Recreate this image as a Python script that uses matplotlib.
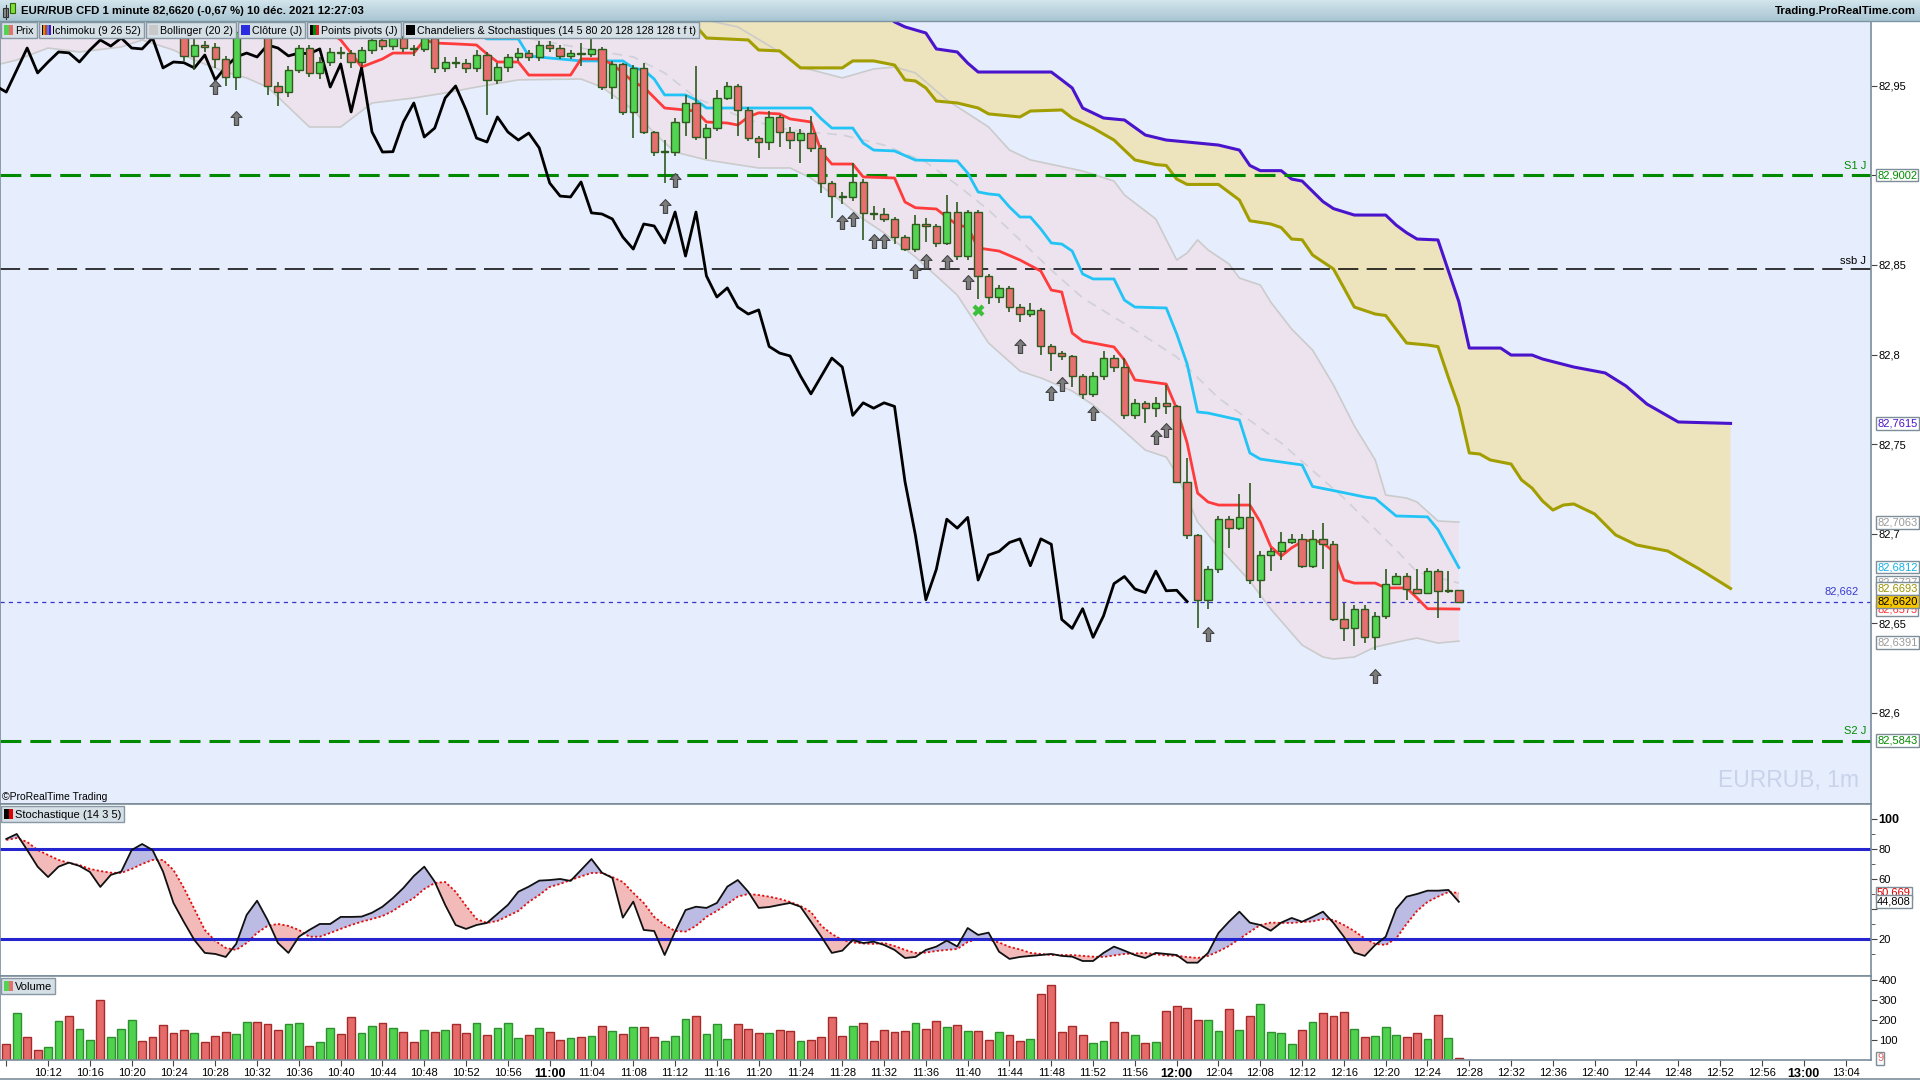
import numpy as np
import matplotlib
matplotlib.use("Agg")
import matplotlib.pyplot as plt
from matplotlib.path import Path
from matplotlib.patches import Rectangle
from matplotlib.colors import LinearSegmentedColormap

plt.rcParams['font.family'] = ['Liberation Sans', 'DejaVu Sans']
plt.rcParams['lines.scale_dashes'] = False

W, H = 1920, 1080

# minutes relative to 12:00  (10:08 -> -112 ... 12:27 -> 27)
minutes = np.arange(-112, 28)

opens = [
    82.995, 82.992, 82.998, 82.994, 82.990, 82.995, 83.002, 82.998, 83.003, 83.006,
    82.999, 83.003, 83.007, 83.012, 83.006, 83.000, 82.994, 82.988, 82.967, 82.973,
    82.972, 82.965, 82.955, 82.980, 82.984, 82.978, 82.950, 82.9466, 82.9589, 82.9712,
    82.9573, 82.9634, 82.9690, 82.9685, 82.9634, 82.9701, 82.9757, 82.9723, 82.9768, 82.9712,
    82.9707, 82.9768, 82.9601, 82.9634, 82.9630, 82.9601, 82.9673, 82.9534, 82.9606, 82.9662,
    82.9684, 82.9662, 82.9729, 82.9712, 82.9668, 82.9684, 82.9680, 82.9707, 82.9494, 82.9623,
    82.9355, 82.9601, 82.9243, 82.9131, 82.9133, 82.9299, 82.9405, 82.9215, 82.9265, 82.9433,
    82.9500, 82.9366, 82.9209, 82.9187, 82.9327, 82.9243, 82.9198, 82.9237, 82.9154, 82.8958,
    82.8885, 82.8880, 82.8964, 82.8791, 82.8785, 82.8757, 82.8656, 82.8589, 82.8729, 82.8718,
    82.8623, 82.8796, 82.8550, 82.8796, 82.8439, 82.8321, 82.8372, 82.8265, 82.8226, 82.8249,
    82.8045, 82.8008, 82.7992, 82.7880, 82.7780, 82.7880, 82.7980, 82.7930, 82.7660, 82.7730,
    82.7700, 82.7730, 82.7710, 82.7290, 82.6990, 82.6630, 82.6800, 82.7080, 82.7030, 82.7090,
    82.6740, 82.6880, 82.6900, 82.6950, 82.6970, 82.6820, 82.6970, 82.6940, 82.6520, 82.6470,
    82.6580, 82.6420, 82.6540, 82.6720, 82.6760, 82.6690, 82.6670, 82.6790, 82.6680, 82.6683]

closes = [
    82.992, 82.998, 82.994, 82.990, 82.995, 83.002, 82.998, 83.003, 83.006, 82.999,
    83.003, 83.007, 83.012, 83.006, 83.000, 82.994, 82.988, 82.967, 82.973, 82.972,
    82.965, 82.955, 82.980, 82.984, 82.978, 82.950, 82.9466, 82.9589, 82.9712, 82.9573,
    82.9634, 82.9690, 82.9685, 82.9634, 82.9701, 82.9757, 82.9723, 82.9768, 82.9712, 82.9707,
    82.9768, 82.9601, 82.9634, 82.9630, 82.9601, 82.9673, 82.9534, 82.9606, 82.9662, 82.9684,
    82.9662, 82.9729, 82.9712, 82.9668, 82.9684, 82.9680, 82.9707, 82.9494, 82.9623, 82.9355,
    82.9601, 82.9243, 82.9131, 82.9133, 82.9299, 82.9405, 82.9215, 82.9265, 82.9433, 82.9500,
    82.9366, 82.9209, 82.9187, 82.9327, 82.9243, 82.9198, 82.9237, 82.9154, 82.8958, 82.8885,
    82.8880, 82.8964, 82.8791, 82.8785, 82.8757, 82.8656, 82.8589, 82.8729, 82.8718, 82.8623,
    82.8796, 82.8550, 82.8796, 82.8439, 82.8321, 82.8372, 82.8265, 82.8226, 82.8249, 82.8045,
    82.8008, 82.7992, 82.7880, 82.7780, 82.7880, 82.7980, 82.7930, 82.7660, 82.7730, 82.7700,
    82.7730, 82.7710, 82.7290, 82.6990, 82.6630, 82.6800, 82.7080, 82.7030, 82.7090, 82.6740,
    82.6880, 82.6900, 82.6950, 82.6970, 82.6820, 82.6970, 82.6940, 82.6520, 82.6470, 82.6580,
    82.6420, 82.6540, 82.6720, 82.6760, 82.6690, 82.6670, 82.6790, 82.6680, 82.6683, 82.6620]

highs = [
    82.998, 83.001, 83.000, 82.996, 82.997, 83.004, 83.004, 83.005, 83.009, 83.008,
    83.005, 83.009, 83.014, 83.013, 83.008, 83.002, 82.996, 82.990, 82.976, 82.975,
    82.974, 82.967, 82.984, 82.990, 82.987, 82.981, 82.952, 82.961, 82.973, 82.973,
    82.966, 82.971, 82.972, 82.970, 82.972, 82.978, 82.977, 82.979, 82.978, 82.973,
    82.979, 82.978, 82.966, 82.966, 82.965, 82.970, 82.969, 82.963, 82.968, 82.971,
    82.970, 82.975, 82.975, 82.973, 82.970, 82.974, 82.976, 82.972, 82.964, 82.963,
    82.962, 82.963, 82.925, 82.920, 82.932, 82.945, 82.961, 82.929, 82.948, 82.952,
    82.951, 82.938, 82.922, 82.936, 82.934, 82.927, 82.926, 82.933, 82.917, 82.897,
    82.891, 82.907, 82.898, 82.883, 82.882, 82.877, 82.867, 82.878, 82.876, 82.873,
    82.889, 82.885, 82.881, 82.881, 82.845, 82.839, 82.838, 82.828, 82.829, 82.826,
    82.806, 82.802, 82.800, 82.789, 82.790, 82.802, 82.800, 82.798, 82.775, 82.774,
    82.776, 82.783, 82.772, 82.742, 82.700, 82.682, 82.710, 82.710, 82.722, 82.728,
    82.690, 82.692, 82.701, 82.700, 82.700, 82.702, 82.706, 82.696, 82.661, 82.660,
    82.660, 82.656, 82.680, 82.678, 82.678, 82.680, 82.681, 82.680, 82.679, 82.6685]

lows = [
    82.989, 82.990, 82.992, 82.987, 82.988, 82.993, 82.996, 82.996, 83.001, 82.997,
    82.997, 83.001, 83.005, 83.004, 82.998, 82.992, 82.986, 82.964, 82.959, 82.969,
    82.960, 82.950, 82.948, 82.976, 82.977, 82.945, 82.939, 82.944, 82.957, 82.955,
    82.954, 82.961, 82.965, 82.960, 82.961, 82.968, 82.970, 82.970, 82.969, 82.967,
    82.969, 82.957, 82.958, 82.960, 82.957, 82.958, 82.934, 82.951, 82.958, 82.964,
    82.964, 82.964, 82.969, 82.965, 82.965, 82.961, 82.966, 82.948, 82.943, 82.934,
    82.921, 82.923, 82.911, 82.896, 82.911, 82.922, 82.920, 82.909, 82.925, 82.942,
    82.922, 82.919, 82.910, 82.914, 82.916, 82.915, 82.907, 82.913, 82.890, 82.876,
    82.884, 82.886, 82.864, 82.875, 82.874, 82.862, 82.858, 82.857, 82.863, 82.860,
    82.861, 82.853, 82.853, 82.831, 82.828, 82.829, 82.824, 82.818, 82.821, 82.800,
    82.791, 82.797, 82.782, 82.775, 82.776, 82.786, 82.790, 82.764, 82.764, 82.762,
    82.765, 82.767, 82.728, 82.697, 82.647, 82.658, 82.678, 82.692, 82.702, 82.672,
    82.664, 82.679, 82.685, 82.694, 82.681, 82.681, 82.680, 82.651, 82.640, 82.637,
    82.639, 82.635, 82.652, 82.671, 82.663, 82.666, 82.666, 82.653, 82.667, 82.661]

volumes = [
    78, 233, 113, 50, 63, 195, 220, 155, 100, 300,
    113, 155, 200, 95, 113, 173, 133, 150, 133, 88,
    120, 138, 128, 188, 188, 178, 150, 178, 183, 68,
    88, 158, 128, 213, 133, 168, 183, 162, 138, 88,
    150, 138, 150, 178, 133, 183, 123, 158, 183, 108,
    123, 158, 138, 98, 108, 113, 118, 168, 143, 128,
    163, 163, 113, 93, 118, 203, 218, 128, 178, 103,
    178, 155, 133, 133, 150, 143, 93, 98, 113, 213,
    118, 168, 183, 93, 148, 138, 143, 183, 153, 193,
    163, 173, 143, 143, 98, 138, 123, 93, 103, 328,
    373, 138, 168, 123, 83, 93, 188, 138, 123, 83,
    88, 243, 268, 258, 198, 198, 143, 253, 148, 218,
    278, 138, 133, 78, 148, 188, 233, 218, 238, 153,
    113, 118, 163, 123, 113, 133, 103, 223, 108, 9]

stoch_k = [
    86.7, 90.0, 79.3, 68.2, 61.3, 68.2, 70.9, 68.7, 64.7, 54.7,
    62.7, 64.9, 79.3, 83.3, 79.3, 64.9, 44.0, 31.3, 19.3, 10.7,
    10.0, 8.0, 16.7, 36.0, 45.5, 32.7, 17.3, 10.7, 21.5, 26.0,
    30.0, 30.0, 34.7, 34.7, 34.9, 37.5, 41.5, 47.3, 54.0, 62.0,
    68.2, 58.2, 42.7, 29.3, 26.7, 29.3, 30.7, 36.7, 42.7, 51.5,
    54.9, 58.9, 59.3, 60.0, 58.7, 66.0, 73.3, 64.2, 60.7, 34.2,
    44.9, 26.0, 25.3, 9.3, 24.9, 39.3, 41.5, 40.7, 44.0, 54.9,
    59.3, 51.5, 40.7, 41.3, 42.7, 44.0, 41.5, 31.5, 21.5, 10.7,
    12.2, 19.3, 17.3, 18.2, 16.0, 12.7, 7.3, 8.0, 12.7, 14.9,
    18.9, 15.0, 27.3, 22.7, 24.2, 11.5, 6.7, 8.0, 8.7, 9.3,
    10.0, 8.7, 8.2, 5.3, 5.3, 10.7, 14.9, 12.2, 9.3, 7.3,
    10.7, 10.0, 9.3, 4.2, 4.2, 10.7, 24.0, 31.5, 38.2, 30.9,
    29.3, 25.5, 30.9, 34.0, 31.5, 34.7, 38.2, 30.7, 21.5, 10.9,
    8.7, 16.0, 21.5, 40.0, 48.2, 50.0, 52.2, 52.2, 52.7, 44.8]

stoch_d = [
    86.0, 87.3, 84.7, 79.3, 76.0, 72.7, 70.7, 69.3, 66.7, 65.3,
    64.2, 64.0, 66.7, 70.0, 72.7, 72.7, 66.0, 54.0, 40.0, 26.0,
    18.7, 14.0, 12.7, 17.3, 24.0, 28.7, 30.0, 28.7, 26.0, 21.5,
    21.5, 24.0, 26.7, 29.3, 31.5, 33.3, 35.3, 38.7, 43.3, 47.3,
    53.3, 57.3, 58.0, 51.5, 42.0, 33.3, 30.7, 32.0, 35.3, 38.7,
    44.7, 49.3, 54.7, 56.7, 59.3, 61.7, 64.0, 64.0, 61.3, 58.0,
    50.7, 44.0, 34.7, 29.3, 25.3, 24.9, 28.7, 34.7, 38.7, 43.3,
    48.2, 50.0, 49.3, 48.2, 46.7, 44.7, 42.0, 38.0, 28.7, 23.3,
    19.3, 17.7, 17.0, 16.7, 17.3, 15.3, 12.7, 10.7, 10.9, 12.0,
    12.7, 13.3, 18.0, 20.0, 19.3, 17.7, 14.7, 13.0, 10.7, 10.0,
    9.3, 9.3, 9.3, 8.7, 8.2, 8.0, 9.0, 10.0, 10.3, 10.7,
    9.7, 9.0, 8.7, 8.0, 7.3, 8.7, 11.7, 15.3, 20.0, 24.7,
    29.3, 30.9, 30.7, 30.7, 31.3, 31.7, 33.3, 32.7, 29.3, 25.3,
    20.3, 16.7, 16.0, 20.3, 30.0, 38.7, 44.7, 48.2, 51.3, 50.7]

# Ichimoku lines (minute, price)
tenkan_t = [-82, -80, -79, -78, -76, -75, -73, -72, -71, -69, -67, -66, -65, -63, -62, -58, -57,
            -55, -54, -53, -52, -51, -49, -46, -45, -43, -42, -41, -40, -38, -37, -35, -34, -33,
            -31, -30, -27, -26, -25, -23, -22, -21, -20, -19, -17, -15, -13, -12, -11, -10, -9,
            -6, -5, -4, -1, 0, 1, 2, 3, 4, 7, 8, 9, 10, 11, 12, 13, 14, 15, 16, 17, 19, 20, 22,
            23, 24, 27]
tenkan_p = [82.984, 82.9757, 82.9684, 82.9606, 82.9651, 82.9684, 82.9684, 82.9757, 82.9740,
            82.9735, 82.9729, 82.9679, 82.9634, 82.9634, 82.9561, 82.9561, 82.9651, 82.9651,
            82.9620, 82.9575, 82.9522, 82.9494, 82.9377, 82.9360, 82.9299, 82.9293, 82.9282,
            82.9327, 82.9350, 82.9344, 82.9316, 82.9299, 82.9131, 82.9064, 82.9064, 82.8992,
            82.8986, 82.8852, 82.8820, 82.8813, 82.8768, 82.8723, 82.8712, 82.8595, 82.8578,
            82.8528, 82.8466, 82.8360, 82.8349, 82.8120, 82.8075, 82.8042, 82.7969, 82.7858,
            82.7835, 82.7698, 82.7506, 82.7226, 82.7176, 82.7159, 82.7159, 82.7064, 82.6927,
            82.6874, 82.6920, 82.6955, 82.6964, 82.6947, 82.6900, 82.6740, 82.6723, 82.6723,
            82.6696, 82.6696, 82.6640, 82.6580, 82.6578]

kijun_t = [-68, -66, -63, -62, -57, -53, -52, -51, -50, -49, -47, -46, -45, -35, -34, -33, -31,
           -30, -29, -27, -25, -21, -20, -19, -18, -17, -16, -15, -14, -13, -12, -11, -10, -9,
           -8, -6, -5, -4, -1, 0, 1, 2, 3, 6, 7, 8, 12, 13, 15, 18, 19, 21, 24, 25, 27]
kijun_p = [82.982, 82.9763, 82.9763, 82.9667, 82.9640, 82.9640, 82.9601, 82.9589, 82.9539,
           82.9450, 82.9450, 82.9422, 82.9377, 82.9377, 82.9316, 82.9265, 82.9265, 82.9181,
           82.9142, 82.9137, 82.9086, 82.9081, 82.9014, 82.8908, 82.8897, 82.8891, 82.8824,
           82.8768, 82.8768, 82.8701, 82.8623, 82.8617, 82.8578, 82.8450, 82.8422, 82.8422,
           82.8304, 82.8265, 82.8260, 82.8115, 82.7947, 82.7679, 82.7673, 82.7634, 82.7450,
           82.7416, 82.7383, 82.7263, 82.7240, 82.7204, 82.7196, 82.7098, 82.7093, 82.7022,
           82.6810]

ssa_t = [-47, -45, -41, -40, -38, -36, -32, -31, -29, -27, -26, -25, -24, -23, -21, -19, -18,
         -15, -14, -11, -10, -8, -6, -5, -4, -2, -1, 0, 1, 4, 6, 7, 9, 10, 11, 12, 13, 15, 16,
         17, 19, 20, 22, 24, 25, 26, 27, 28, 29, 30, 32, 33, 34, 35, 36, 37, 38, 40, 42, 44,
         47, 50, 53]
ssa_p = [82.990, 82.9768, 82.9757, 82.9701, 82.9696, 82.9601, 82.9601, 82.9640, 82.9640,
         82.9617, 82.9534, 82.9528, 82.9489, 82.9416, 82.9405, 82.9377, 82.9344, 82.9327,
         82.9360, 82.9366, 82.9321, 82.9265, 82.9198, 82.9142, 82.9087, 82.9061, 82.9056,
         82.8980, 82.8950, 82.8950, 82.8863, 82.8747, 82.8729, 82.8709, 82.8645, 82.8641,
         82.8556, 82.8478, 82.8372, 82.8265, 82.8226, 82.8218, 82.8064, 82.8053, 82.8044,
         82.7871, 82.7707, 82.7450, 82.7444, 82.7411, 82.7388, 82.7299, 82.7254, 82.7182,
         82.7131, 82.7159, 82.7165, 82.7109, 82.6992, 82.6936, 82.6902, 82.6802, 82.6693]

ssb_t = [-47, -30, -27, -26, -24, -23, -21, -20, -19, -12, -11, -10, -9, -7, -5, -3, -1, 1, 4,
         6, 7, 8, 10, 11, 12, 14, 15, 17, 20, 21, 22, 23, 25, 27, 28, 31, 32, 34, 35, 38, 41,
         43, 45, 48, 53]
ssb_p = [83.020, 83.000, 82.9858, 82.9830, 82.9796, 82.9707, 82.9690, 82.9628, 82.9578,
         82.9578, 82.9534, 82.9489, 82.9377, 82.9321, 82.9310, 82.9226, 82.9198, 82.9187,
         82.9170, 82.9142, 82.9056, 82.9027, 82.9027, 82.8980, 82.8969, 82.8854, 82.8815,
         82.8779, 82.8779, 82.8723, 82.8680, 82.8645, 82.8640, 82.8295, 82.8036, 82.8036,
         82.7997, 82.7997, 82.7975, 82.7930, 82.7897, 82.7824, 82.7723, 82.7623, 82.7615]

# Bollinger (20 2)
bb_up_t = [-113, -70, -57, -46, -42, -38, -36, -32, -29, -27, -25, -22, -18, -16, -14, -9, -6,
           -5, -2, 0, 1, 2, 3, 5, 6, 8, 9, 11, 13, 15, 17, 19, 20, 22, 23, 25, 27]
bb_up_p = [83.005, 82.998, 82.992, 82.988, 82.9830, 82.9690, 82.9606, 82.9545, 82.9595,
           82.9606, 82.9573, 82.9422, 82.9271, 82.9142, 82.9087, 82.9025, 82.8969, 82.8891,
           82.8757, 82.8528, 82.8567, 82.8640, 82.8584, 82.8506, 82.8427, 82.8388, 82.8293,
           82.8142, 82.8025, 82.7830, 82.7601, 82.7411, 82.7215, 82.7198, 82.7176, 82.7070,
           82.7064]
bb_lo_t = [-113, -111, -109, -108, -105, -101, -99, -96, -94, -91, -89, -87, -85, -83, -80, -77,
           -73, -70, -67, -63, -57, -55, -52, -50, -48, -45, -40, -37, -35, -32, -30, -28, -25,
           -21, -18, -15, -13, -10, -8, -6, -3, -1, 0, 2, 4, 7, 9, 12, 14, 15, 17, 19, 22, 23,
           25, 27]
bb_lo_p = [82.9617, 82.9645, 82.9690, 82.9712, 82.9690, 82.9718, 82.9757, 82.9701, 82.9645,
           82.9578, 82.9545, 82.9494, 82.9383, 82.9271, 82.9271, 82.9405, 82.9433, 82.9461,
           82.9494, 82.9534, 82.9539, 82.9494, 82.9366, 82.9237, 82.9131, 82.9087, 82.9042,
           82.9042, 82.8986, 82.8852, 82.8757, 82.8679, 82.8545, 82.8332, 82.8064, 82.7908,
           82.7869, 82.7796, 82.7718, 82.7623, 82.7466, 82.7427, 82.7332, 82.7064, 82.6925,
           82.6735, 82.6578, 82.6377, 82.6310, 82.6299, 82.6310, 82.6366, 82.6405, 82.6416,
           82.6388, 82.6399]
bb_mid_t = [-113, -80, -70, -57, -52, -49, -46, -41, -37, -32, -28, -24, -21, -18, -15, -12, -9,
            -4, 0, 4, 10, 16, 21, 23, 27]
bb_mid_p = [82.992, 82.990, 82.985, 82.9712, 82.9662, 82.9573, 82.9433, 82.9310, 82.9254,
            82.9226, 82.9170, 82.9075, 82.8947, 82.8807, 82.8640, 82.8472, 82.8316, 82.8137,
            82.7986, 82.7757, 82.7506, 82.7198, 82.6908, 82.6785, 82.6723]

# pattern arrows (minute, price) and other levels
arrow_t = [-92, -90, -49, -48, -32, -31, -29, -28, -25, -24, -22, -20, -15, -12, -11, -8, -2, -1, 3, 19]
arrow_p = [82.9494, 82.9321, 82.8830, 82.8975, 82.8740, 82.8757, 82.8634, 82.8634, 82.8466,
           82.8522, 82.8517, 82.8405, 82.8047, 82.7785, 82.7835, 82.7673, 82.7539, 82.7578,
           82.6439, 82.6204]
cross_t, cross_p = -19, 82.825
s1, s2, ssb_day, last_price = 82.9002, 82.5843, 82.8475, 82.662

xtick_minutes = list(range(-112, 66, 4))

GREEN, RED, OUTLINE = '#52D352', '#E76F6F', '#2F5A1E'
SPINE = '#7A8C99'


def px(x0, y0, x1, y1):
    return [x0 / W, 1 - y1 / H, (x1 - x0) / W, (y1 - y0) / H]


fig = plt.figure(figsize=(W / 100, H / 100), dpi=100)
fig.patch.set_facecolor('white')
ax_p = fig.add_axes(px(0, 21, 1871, 804))
ax_s = fig.add_axes(px(0, 804, 1871, 976), sharex=ax_p)
ax_v = fig.add_axes(px(0, 976, 1871, 1060), sharex=ax_p)

for ax in (ax_p, ax_s, ax_v):
    for sp in ax.spines.values():
        sp.set_color(SPINE)
        sp.set_linewidth(1.2)
    ax.yaxis.tick_right()
    ax.tick_params(axis='y', length=4, width=0.8, colors='#444444', labelcolor='black',
                   labelsize=8, pad=1.5)
ax_p.tick_params(axis='x', bottom=False, labelbottom=False)
ax_s.tick_params(axis='x', bottom=False, labelbottom=False)

# ---------------- price panel ----------------
ax_p.set_facecolor('#E6EDFD')
ax_p.set_xlim(-112.6, 66.44)
ax_p.set_ylim(82.5489, 82.9863)

ax_p.fill(bb_up_t + bb_lo_t[::-1], bb_up_p + bb_lo_p[::-1], color='#ECE3EF', lw=0, zorder=1)
ax_p.fill(ssa_t + ssb_t[::-1], ssa_p + ssb_p[::-1], color='#EDE3BC', lw=0, zorder=1.2)
ax_p.plot(bb_up_t, bb_up_p, color='#CBCBCB', lw=1.2, zorder=1.5)
ax_p.plot(bb_lo_t, bb_lo_p, color='#CBCBCB', lw=1.2, zorder=1.5)
ax_p.plot(bb_mid_t, bb_mid_p, color='#D0D0D8', lw=1.2, dashes=(7, 5), zorder=1.5)

ax_p.axhline(s1, color='#008A00', lw=2.2, dashes=(15, 6.5), zorder=2.5)
ax_p.axhline(s2, color='#008A00', lw=2.2, dashes=(15, 6.5), zorder=2.5)
ax_p.axhline(ssb_day, color='black', lw=1.1, dashes=(14.5, 6), zorder=2.5)
ax_p.axhline(last_price, color='#3535CC', lw=0.9, dashes=(3, 3), zorder=2.5)

ax_p.plot(ssa_t, ssa_p, color='#A39E00', lw=2.2, zorder=2)
ax_p.plot(ssb_t, ssb_p, color='#4A14CC', lw=2.2, zorder=2)
ax_p.plot(kijun_t, kijun_p, color='#22C4F5', lw=2.0, zorder=3)
ax_p.plot(tenkan_t, tenkan_p, color='#FF3B3B', lw=2.0, zorder=3)
ax_p.plot(minutes - 26, closes, color='black', lw=2.0, zorder=3)

o = np.array(opens)
c = np.array(closes)
up = c >= o
ax_p.vlines(minutes, lows, highs, color=OUTLINE, lw=1.2, zorder=4)
ax_p.bar(minutes, np.maximum(np.abs(c - o), 0.0005), bottom=np.minimum(o, c), width=0.7,
         color=np.where(up, GREEN, RED), edgecolor=OUTLINE, linewidth=1, zorder=4.5)

arrow = Path([(0, 1), (0.8, 0.15), (0.3, 0.15), (0.3, -1), (-0.3, -1), (-0.3, 0.15),
              (-0.8, 0.15), (0, 1)],
             [Path.MOVETO] + [Path.LINETO] * 6 + [Path.CLOSEPOLY])
ax_p.scatter(arrow_t, arrow_p, marker=arrow, s=100, color='#7C7C7C', edgecolors='#464646',
             linewidths=0.8, zorder=5)
ax_p.scatter([cross_t], [cross_p], marker='X', s=75, color='#3CC03C', linewidths=0, zorder=5)

# 82,9 is hidden behind the S1 value box in the reference
price_ticks = [82.6, 82.65, 82.7, 82.75, 82.8, 82.85, 82.9, 82.95]
ax_p.set_yticks(price_ticks)
ax_p.set_yticklabels(['' if abs(v - 82.9) < 1e-9 else f"{v:.2f}".rstrip('0').replace('.', ',')
                      for v in price_ticks])


def tag(ax, y, text, color, fc='white'):
    ax.annotate(text, xy=(1, y), xycoords=('axes fraction', 'data'), xytext=(6, 0),
                textcoords='offset pixels', ha='left', va='center', fontsize=8, color=color,
                bbox=dict(boxstyle='square,pad=0.12', fc=fc, ec='#7D8E99', lw=1),
                annotation_clip=False, zorder=10)


tag(ax_p, 82.9002, '82,9002', '#008A00')
tag(ax_p, 82.7615, '82,7615', '#4A14CC')
tag(ax_p, 82.7063, '82,7063', '#9A9A9A')
tag(ax_p, 82.6812, '82,6812', '#10B0E8')
tag(ax_p, 82.6727, '82,6727', '#9A9A9A')
tag(ax_p, 82.6693, '82,6693', '#9A9400')
tag(ax_p, 82.6575, '82,6575', '#FF3030')
tag(ax_p, 82.6391, '82,6391', '#9A9A9A')
tag(ax_p, 82.5843, '82,5843', '#008A00')
tag(ax_p, 82.6620, '82,6620', 'black', fc='#F7C600')

# ---------------- stochastic panel ----------------
k = np.array(stoch_k)
d = np.array(stoch_d)
ax_s.set_facecolor('white')
ax_s.set_ylim(-4.7, 110)
ax_s.fill_between(minutes, k, d, where=k >= d, interpolate=True, color='#BBBBE3', lw=0, zorder=1)
ax_s.fill_between(minutes, k, d, where=k < d, interpolate=True, color='#F3BABA', lw=0, zorder=1)
ax_s.plot(minutes, d, color='#E01010', lw=1.3, linestyle=(0, (1.6, 1.6)), zorder=2)
ax_s.plot(minutes, k, color='#111111', lw=1.3, zorder=3)
ax_s.axhline(80, color='#2525D0', lw=2.2, zorder=2)
ax_s.axhline(20, color='#2525D0', lw=2.2, zorder=2)
ax_s.set_yticks([20, 40, 60, 80, 100])
ax_s.set_yticklabels(['20', '', '60', '80', '100'])
ax_s.get_yticklabels()[-1].set_fontweight('bold')
ax_s.get_yticklabels()[-1].set_fontsize(9)
ax_s.set_yticks([10, 30, 50, 70, 90], minor=True)
ax_s.tick_params(axis='y', which='minor', length=3, colors='#444444')
tag(ax_s, 50.669, '50,669', '#E00000')
tag(ax_s, 44.808, '44,808', 'black')

# ---------------- volume panel ----------------
ax_v.set_facecolor('white')
ax_v.set_ylim(0, 420)
ax_v.bar(minutes, volumes, width=0.75, color=np.where(up, '#4FD34F', '#E56B6B'),
         edgecolor=np.where(up, '#2E8F2E', '#A52A2A'), linewidth=1, zorder=2)
ax_v.set_yticks([100, 200, 300, 400])
ax_v.set_yticklabels(['100', '200', '300', '400'])
tag(ax_v, 9, '9', '#E06060')

xlabels = []
for m in xtick_minutes:
    t = 720 + m
    xlabels.append('' if m == -112 else f"{t // 60}:{t % 60:02d}")
ax_v.set_xticks(xtick_minutes)
ax_v.set_xticklabels(xlabels)
ax_v.tick_params(axis='x', length=4, width=0.8, colors='#444444', labelcolor='black',
                 labelsize=8, pad=1.5)
for m, lab in zip(xtick_minutes, ax_v.get_xticklabels()):
    if (720 + m) % 60 == 0:
        lab.set_fontweight('bold')
        lab.set_fontsize(9)

# ---------------- overlay: title bar, legends, captions ----------------
ov = fig.add_axes([0, 0, 1, 1], zorder=20)
ov.patch.set_visible(False)
grad = LinearSegmentedColormap.from_list('bar', ['#D2E4EC', '#A9C6D3'])
ov.imshow(np.linspace(0, 1, 21)[:, None], extent=(0, W, 21, 0), cmap=grad, aspect='auto')
ov.set_xlim(0, W)
ov.set_ylim(H, 0)
ov.axis('off')
ov.plot([0, W], [21, 21], color='#7C95A3', lw=1)
ov.plot([0, W], [1079, 1079], color=SPINE, lw=1.2)

# title icon
ov.add_patch(Rectangle((3, 8), 5, 9, fc='#8C8C8C', ec='#333333', lw=0.8))
ov.plot([5.5, 5.5], [5, 19], color='#333333', lw=0.8)
ov.add_patch(Rectangle((10, 3), 5, 10, fc='#7CE040', ec='#336600', lw=0.8))
ov.text(21, 11, 'EUR/RUB CFD 1 minute 82,6620 (-0,67 %) 10 déc. 2021 12:27:03',
        fontsize=8.2, fontweight='bold', va='center', ha='left')
ov.text(1916, 11, 'Trading.ProRealTime.com', fontsize=8.2, fontweight='bold', va='center',
        ha='right')

renderer = fig.canvas.get_renderer()


def legend_box(x, y0, y1, label, icon_colors, size=8):
    txt = ov.text(x + 14, (y0 + y1) / 2 + 0.5, label, fontsize=size, va='center', ha='left',
                  zorder=3)
    w = txt.get_window_extent(renderer).width
    ov.add_patch(Rectangle((x, y0), w + 17, y1 - y0, fc='#D5DFE6', ec='#8797A3', lw=1, zorder=1))
    n = len(icon_colors)
    sw = 9 / n
    for i, col in enumerate(icon_colors):
        ov.add_patch(Rectangle((x + 3 + i * sw, y0 + 3), sw, y1 - y0 - 6, fc=col, ec='none',
                               zorder=2))
    return x + w + 19


items = [
    ('Prix', ['#52D352', '#E76F6F']),
    ('Ichimoku (9 26 52)', ['#000000', '#D98C00', '#E03030', '#1E90FF', '#6A0DAD']),
    ('Bollinger (20 2)', ['#C8C8C8']),
    ('Clôture (J)', ['#2B2BE0']),
    ('Points pivots (J)', ['#000000', '#008A00', '#E02020']),
    ('Chandeliers & Stochastiques (14 5 80 20 128 128 128 t f t)', ['#000000']),
]
x = 1
for label, cols in items:
    x = legend_box(x, 22, 38, label, cols, size=7.7)

legend_box(1, 806, 822, 'Stochastique (14 3 5)', ['#000000', '#E00000'])
legend_box(1, 978, 994, 'Volume', ['#52D352', '#E76F6F'])

ov.text(2, 797, '©ProRealTime Trading', fontsize=7.5, va='center', ha='left')
ov.text(1859, 781, 'EURRUB, 1m', fontsize=16.5, color='#C8D2EA', va='center', ha='right')
ov.text(1866, 166, 'S1 J', fontsize=8, color='#008A00', va='center', ha='right')
ov.text(1866, 261, 'ssb J', fontsize=8, color='black', va='center', ha='right')
ov.text(1866, 731, 'S2 J', fontsize=8, color='#008A00', va='center', ha='right')
ov.text(1859, 592, '82,662', fontsize=8, color='#3A3AD0', va='center', ha='right')

fig.savefig('out.png', dpi=100)
